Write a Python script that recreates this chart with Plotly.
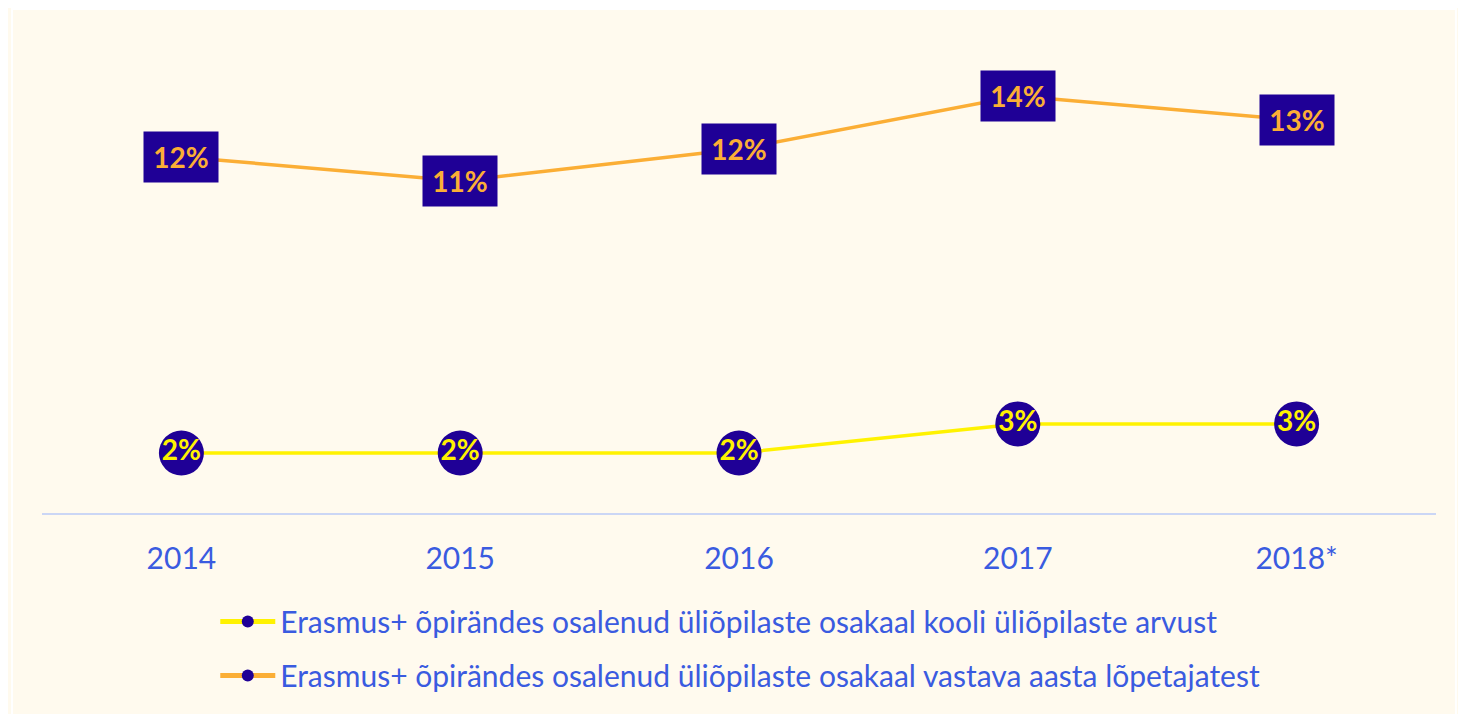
import plotly.graph_objects as go

years = ["2014", "2015", "2016", "2017", "2018*"]
share_of_students = [2.0, 2.0, 2.0, 2.97, 2.97]
share_of_graduates = [11.87, 11.07, 12.13, 13.9, 13.1]
share_of_students_labels = ["2%", "2%", "2%", "3%", "3%"]
share_of_graduates_labels = ["12%", "11%", "12%", "14%", "13%"]

name_students = "Erasmus+ õpirändes osalenud üliõpilaste osakaal kooli üliõpilaste arvust"
name_graduates = "Erasmus+ õpirändes osalenud üliõpilaste osakaal vastava aasta lõpetajatest"

NAVY = "#1F0096"
YELLOW = "#FFF200"
ORANGE = "#FBAE35"
BLUE_TEXT = "#3A5BE0"
BG = "#FFFAEE"
FONT = "Lato, 'Open Sans', sans-serif"

fig = go.Figure()
fig.add_trace(
    go.Scatter(
        x=years,
        y=share_of_students,
        name=name_students,
        mode="lines+markers+text",
        line=dict(color=YELLOW, width=3.5),
        marker=dict(color=NAVY, size=45, symbol="circle"),
        text=share_of_students_labels,
        textposition="middle center",
        textfont=dict(color=YELLOW, size=28, family=FONT, weight="bold"),
        legendgroup="a",
        cliponaxis=False,
    )
)
fig.add_trace(
    go.Scatter(
        x=years,
        y=share_of_graduates,
        name=name_graduates,
        mode="lines+markers",
        line=dict(color=ORANGE, width=3.5),
        marker=dict(color=NAVY, size=12, symbol="circle"),
        legendgroup="b",
        cliponaxis=False,
    )
)

# boxed labels for the graduate share (category index keeps "2014" from being read as a number)
for i, (val, lab) in enumerate(zip(share_of_graduates, share_of_graduates_labels)):
    fig.add_annotation(
        x=i,
        y=val,
        text="<b>" + lab + "</b>",
        showarrow=False,
        bgcolor=NAVY,
        width=72,
        height=48,
        font=dict(color=ORANGE, size=28, family=FONT),
    )

fig.update_layout(
    width=1458,
    height=706,
    paper_bgcolor=BG,
    plot_bgcolor=BG,
    margin=dict(l=34, r=30, t=25, b=198),
    font=dict(family=FONT, color=BLUE_TEXT),
    xaxis=dict(
        type="category",
        range=[-0.5, 4.5],
        showgrid=False,
        showline=True,
        linecolor="#CBD6F5",
        linewidth=2,
        ticks="outside",
        ticklen=18,
        tickcolor="rgba(0,0,0,0)",
        tickfont=dict(size=30, color=BLUE_TEXT),
        zeroline=False,
    ),
    yaxis=dict(
        range=[0, 16],
        showgrid=False,
        showticklabels=False,
        zeroline=False,
        showline=False,
    ),
    legend=dict(
        orientation="v",
        x=0.1243,
        xanchor="left",
        y=-0.172,
        yanchor="top",
        font=dict(size=30, color=BLUE_TEXT),
        itemwidth=55,
        itemsizing="constant",
        traceorder="grouped",
        tracegroupgap=12,
        bgcolor="rgba(0,0,0,0)",
    ),
    shapes=[
        dict(
            type="rect",
            xref="paper",
            yref="paper",
            x0=-0.0215,
            x1=1.0143,
            y0=-0.45,
            y1=1.05,
            line=dict(color="white", width=2),
        )
    ],
)

fig.write_html("out.html")
